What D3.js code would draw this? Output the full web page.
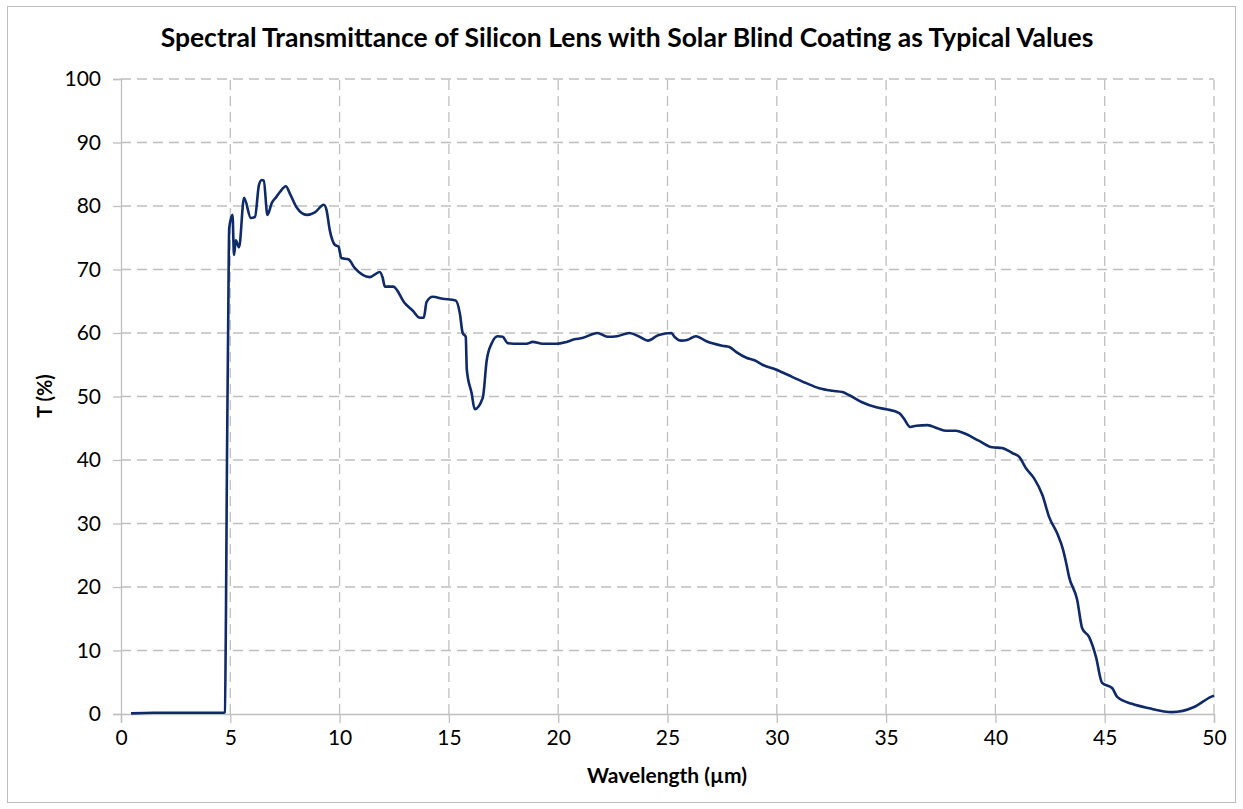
<!DOCTYPE html>
<html>
<head>
<meta charset="utf-8">
<script src="https://cdn.jsdelivr.net/npm/d3@7"></script>
<style>
  body { margin: 0; background: #fff; }
  text { font-family: Lato, "Open Sans", sans-serif; }
</style>
</head>
<body>
<div id="container"></div>
<script>
let w = 1243;
let h = 809;

// wavelength (um) and transmittance (%)
let wavelength = [0.46, 1.5, 3, 4.7, 4.75, 4.8, 4.85, 4.9, 4.95, 5.1, 5.17, 5.25, 5.4, 5.63, 5.94, 6.13, 6.31, 6.44, 6.53, 6.7, 6.9, 7.1, 7.27, 7.54, 7.72, 8.03, 8.5, 8.87, 9.28, 9.4, 9.55, 9.78, 9.95, 10.08, 10.4, 10.7, 11.38, 11.84, 11.97, 12.07, 12.45, 12.98, 13.35, 13.67, 13.85, 13.98, 14.26, 14.72, 15.31, 15.5, 15.63, 15.77, 15.82, 16.04, 16.18, 16.55, 16.73, 16.96, 17.23, 17.46, 17.69, 18.24, 18.55, 18.83, 19.29, 19.93, 20.38, 20.74, 21.1, 21.8, 22.26, 22.7, 23.26, 23.72, 24.1, 24.6, 25.18, 25.32, 25.64, 25.9, 26.3, 26.78, 27.5, 27.83, 28.15, 28.61, 28.98, 29.34, 29.98, 30.7, 31.35, 31.94, 32.54, 33.0, 33.32, 33.9, 34.55, 35.0, 35.6, 35.8, 36.1, 36.38, 36.9, 37.34, 37.76, 38.2, 38.57, 39.26, 39.86, 40.3, 40.77, 41.09, 41.4, 41.77, 42.15, 42.46, 42.82, 43.1, 43.23, 43.37, 43.74, 43.97, 44.29, 44.6, 44.88, 45.34, 45.57, 46.25, 47.03, 48.08, 49.09, 49.86, 50];
let transmittance = [0.1, 0.2, 0.2, 0.2, 0.3, 15, 41, 60, 76.5, 78.6, 72.3, 74.6, 73.5, 81.3, 78.1, 78.3, 83.3, 84.1, 84, 78.6, 80.5, 81.4, 82.2, 83.1, 82, 79.8, 78.6, 79, 80.2, 79.4, 76.2, 73.9, 73.6, 71.8, 71.6, 70.2, 68.8, 69.6, 68.7, 67.3, 67.3, 64.7, 63.5, 62.4, 62.4, 64.9, 65.7, 65.4, 65.1, 63.1, 60, 59.4, 54.2, 50.5, 48, 49.8, 55.7, 58.4, 59.5, 59.4, 58.4, 58.3, 58.3, 58.6, 58.3, 58.3, 58.6, 59, 59.2, 60, 59.4, 59.5, 60, 59.4, 58.8, 59.7, 60, 59.4, 58.8, 58.9, 59.5, 58.7, 58, 57.8, 57, 56.1, 55.7, 55, 54.2, 53.1, 52.1, 51.3, 50.9, 50.7, 50.2, 49.1, 48.3, 48, 47.4, 46.6, 45.2, 45.4, 45.5, 45, 44.6, 44.6, 44.2, 43, 42, 41.9, 41.1, 40.5, 38.7, 37.1, 34.5, 31, 28.5, 25.8, 23.9, 21.6, 18, 13.5, 12.1, 9, 4.9, 4.1, 2.7, 1.6, 0.9, 0.3, 1.1, 2.7, 2.9];

let xTicks = [0, 5, 10, 15, 20, 25, 30, 35, 40, 45, 50];
let yTicks = [0, 10, 20, 30, 40, 50, 60, 70, 80, 90, 100];

let titleText = "Spectral Transmittance of Silicon Lens with Solar Blind Coating as Typical Values";
let xLabel = "Wavelength (µm)";
let yLabel = "T (%)";

let margin = {left: 121, right: 29, top: 79, bottom: 95};

let viz = d3.select("#container")
  .append("svg")
    .attr("width", w)
    .attr("height", h)
    .style("background-color", "#fff");

// outer chart border
viz.append("rect")
  .attr("x", 7.5).attr("y", 6.5)
  .attr("width", w - 15).attr("height", h - 13)
  .attr("fill", "none")
  .attr("stroke", "#bdbdbd")
  .attr("stroke-width", 1);

let x = d3.scaleLinear().domain([0, 50]).range([margin.left, w - margin.right]);
let y = d3.scaleLinear().domain([0, 100]).range([h - margin.bottom, margin.top]);

let gridColor = "#bfbfbf";

// dashed grid
viz.append("g")
  .selectAll("line")
  .data(xTicks.filter(d => d > 0))
  .enter().append("line")
    .attr("x1", d => x(d)).attr("x2", d => x(d))
    .attr("y1", y(0)).attr("y2", y(100))
    .attr("stroke", gridColor)
    .attr("stroke-width", 1.3)
    .attr("stroke-dasharray", "10,6");

viz.append("g")
  .selectAll("line")
  .data(yTicks.filter(d => d > 0))
  .enter().append("line")
    .attr("x1", x(0)).attr("x2", x(50))
    .attr("y1", d => y(d)).attr("y2", d => y(d))
    .attr("stroke", gridColor)
    .attr("stroke-width", 1.3)
    .attr("stroke-dasharray", "10,6");

// axes
let xAxis = viz.append("g")
  .attr("transform", "translate(0," + y(0) + ")")
  .call(d3.axisBottom(x).tickValues(xTicks).tickSize(9).tickPadding(7).tickFormat(d3.format("d")));

let yAxis = viz.append("g")
  .attr("transform", "translate(" + x(0) + ",0)")
  .call(d3.axisLeft(y).tickValues(yTicks).tickSize(8).tickPadding(12).tickFormat(d3.format("d")));

[xAxis, yAxis].forEach(function(a){
  a.select(".domain").attr("stroke", gridColor).attr("stroke-width", 1.3);
  a.selectAll(".tick line").attr("stroke", gridColor).attr("stroke-width", 1.3);
  a.selectAll(".tick text")
    .attr("fill", "#000")
    .style("font-size", "21px")
    .style("font-family", "Lato, 'Open Sans', sans-serif");
});

// the curve
let points = wavelength.map((d, i) => [d, transmittance[i]]);
let line = d3.line()
  .x(d => x(d[0]))
  .y(d => y(d[1]))
  .curve(d3.curveMonotoneX);

viz.append("path")
  .datum(points)
  .attr("d", line)
  .attr("fill", "none")
  .attr("stroke", "#0e2a6a")
  .attr("stroke-width", 2.6)
  .attr("stroke-linejoin", "round");

// text
viz.append("text")
  .attr("x", 627).attr("y", 47)
  .attr("text-anchor", "middle")
  .style("font-size", "26.5px")
  .style("font-weight", "bold")
  .text(titleText);

viz.append("text")
  .attr("x", 667).attr("y", 783)
  .attr("text-anchor", "middle")
  .style("font-size", "21px")
  .style("font-weight", "bold")
  .text(xLabel);

viz.append("text")
  .attr("transform", "translate(52,396) rotate(-90)")
  .attr("text-anchor", "middle")
  .style("font-size", "20px")
  .style("font-weight", "bold")
  .text(yLabel);
</script>
</body>
</html>
